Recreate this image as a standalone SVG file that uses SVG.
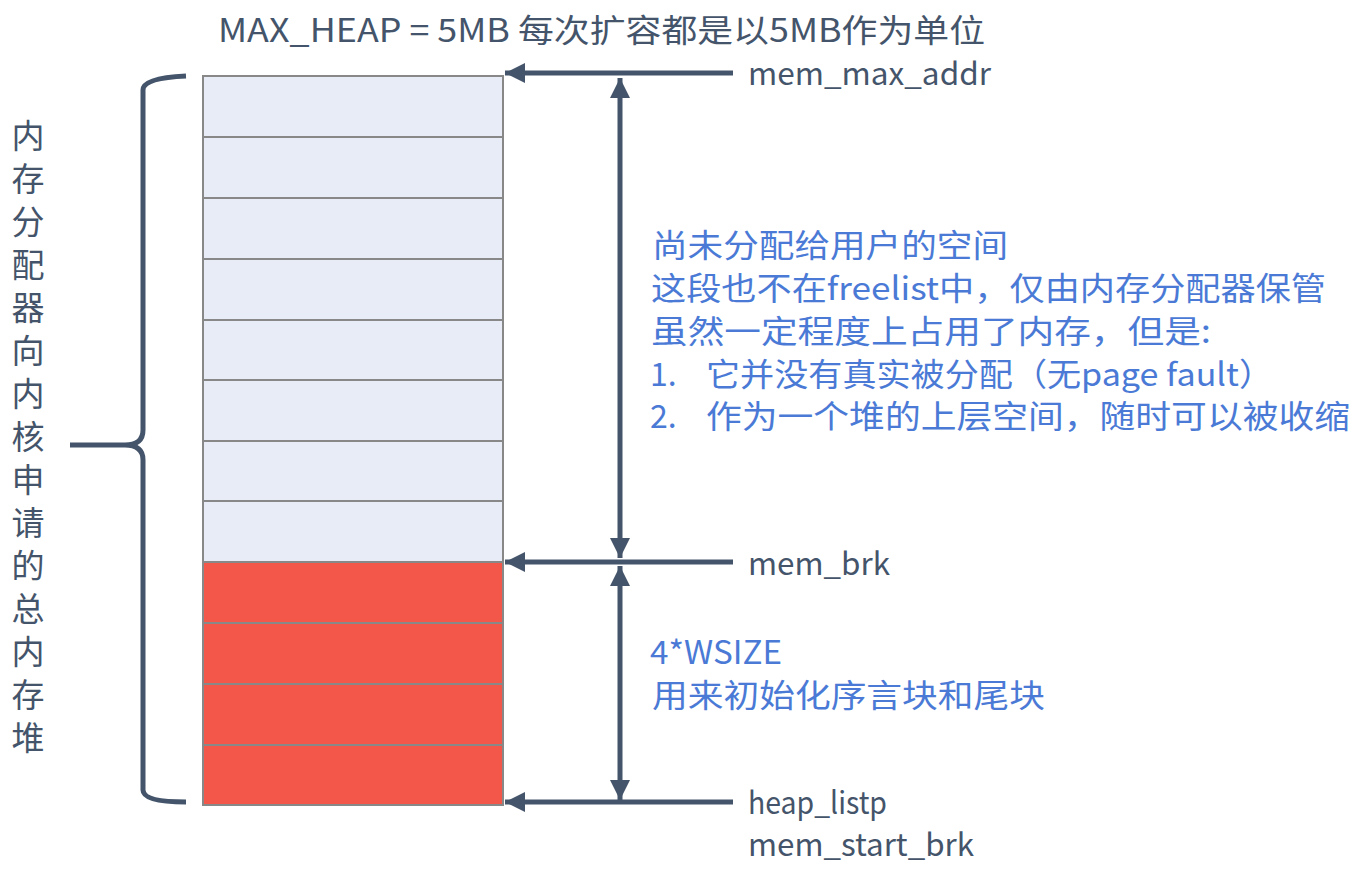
<svg xmlns="http://www.w3.org/2000/svg" width="1364" height="877" viewBox="0 0 1364 877">
<style>
.free{fill:#E8ECF7;stroke:#888888;stroke-width:2}
.used{fill:#F2574A;stroke:#888888;stroke-width:2}
.ln{stroke:#44546A;stroke-width:5;fill:none}
.lbl{font-family:"Noto Sans CJK SC","Noto Sans",sans-serif;font-size:31px;fill:#44546A}
.blue{font-family:"Noto Sans CJK SC","Noto Sans",sans-serif;font-size:32px;fill:#4A7AD6}
</style>
<defs>
<marker id="ah" viewBox="0 0 20 20" refX="20" refY="10" markerWidth="20" markerHeight="20" markerUnits="userSpaceOnUse" orient="auto-start-reverse">
<path d="M0,0 L20,10 L0,20 Z" fill="#44546A"/>
</marker>
</defs>
<rect width="1364" height="877" fill="#FFFFFF"/>
<text id="title" class="lbl" x="218" y="42" textLength="767" lengthAdjust="spacingAndGlyphs" style="font-size:32px">MAX_HEAP = 5MB 每次扩容都是以5MB作为单位</text>
<g id="heap">
<rect class="free" x="203" y="76" width="300" height="61"/>
<rect class="free" x="203" y="137" width="300" height="61"/>
<rect class="free" x="203" y="198" width="300" height="61"/>
<rect class="free" x="203" y="259" width="300" height="61"/>
<rect class="free" x="203" y="320" width="300" height="60"/>
<rect class="free" x="203" y="380" width="300" height="61"/>
<rect class="free" x="203" y="441" width="300" height="60"/>
<rect class="free" x="203" y="501" width="300" height="61"/>
<rect class="used" x="203" y="562" width="300" height="61"/>
<rect class="used" x="203" y="623" width="300" height="61"/>
<rect class="used" x="203" y="684" width="300" height="61"/>
<rect class="used" x="203" y="745" width="300" height="60"/>
</g>
<g id="brace">
<path class="ln" d="M186,76 Q143,78 143,90 L143,430 Q143,445 125,445 L70,445 M125,445 Q143,445 143,460 L143,790 Q143,802 186,802"/>
</g>
<g id="connectors">
<line class="ln" x1="733" y1="73" x2="505" y2="73" marker-end="url(#ah)"/>
<line class="ln" x1="733" y1="562" x2="505" y2="562" marker-end="url(#ah)"/>
<line class="ln" x1="733" y1="802" x2="505" y2="802" marker-end="url(#ah)"/>
<line class="ln" x1="620" y1="78" x2="620" y2="558" marker-start="url(#ah)" marker-end="url(#ah)"/>
<line class="ln" x1="620" y1="566" x2="620" y2="800" marker-start="url(#ah)" marker-end="url(#ah)"/>
</g>
<g id="labels">
<text class="lbl" x="748" y="85" textLength="243" lengthAdjust="spacingAndGlyphs">mem_max_addr</text>
<text class="lbl" x="748" y="575" textLength="142" lengthAdjust="spacingAndGlyphs">mem_brk</text>
<text class="lbl" x="748" y="814" textLength="139" lengthAdjust="spacingAndGlyphs">heap_listp</text>
<text class="lbl" x="748" y="856" textLength="226" lengthAdjust="spacingAndGlyphs">mem_start_brk</text>
</g>
<g id="note-free">
<text class="blue" x="652" y="257" textLength="356" lengthAdjust="spacingAndGlyphs">尚未分配给用户的空间</text>
<text class="blue" x="651" y="300" textLength="675" lengthAdjust="spacingAndGlyphs">这段也不在freelist中，仅由内存分配器保管</text>
<text class="blue" x="651" y="343" textLength="560" lengthAdjust="spacingAndGlyphs">虽然一定程度上占用了内存，但是:</text>
<text class="blue" x="650" y="386">1.</text>
<text class="blue" x="706" y="386" textLength="567" lengthAdjust="spacingAndGlyphs">它并没有真实被分配（无page fault）</text>
<text class="blue" x="650" y="428">2.</text>
<text class="blue" x="706" y="428" textLength="644" lengthAdjust="spacingAndGlyphs">作为一个堆的上层空间，随时可以被收缩</text>
</g>
<g id="note-used">
<text class="blue" x="650" y="664" textLength="132" lengthAdjust="spacingAndGlyphs">4*WSIZE</text>
<text class="blue" x="652" y="707" textLength="393" lengthAdjust="spacingAndGlyphs">用来初始化序言块和尾块</text>
</g>
<g id="side">
<text class="lbl" x="28" y="119" style="font-size:33px;writing-mode:vertical-rl;letter-spacing:10px">内存分配器向内核申请的总内存堆</text>
</g>
</svg>
